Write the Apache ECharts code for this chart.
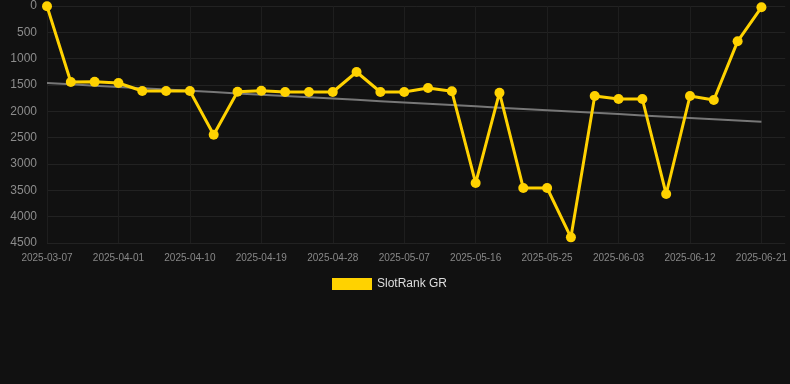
<!DOCTYPE html>
<html>
<head>
<meta charset="utf-8">
<style>
  html, body { margin: 0; padding: 0; background: #111111; }
  #chart { width: 790px; height: 384px; }
</style>
<script src="https://cdn.jsdelivr.net/npm/echarts@6/dist/echarts.min.js"></script>
</head>
<body>
<div id="chart"></div>
<script>
const dates = [
  '2025-03-07', '2025-03-26', '2025-03-29', '2025-04-01', '2025-04-04', '2025-04-07',
  '2025-04-10', '2025-04-13', '2025-04-16', '2025-04-19', '2025-04-22', '2025-04-25',
  '2025-04-28', '2025-05-01', '2025-05-04', '2025-05-07', '2025-05-10', '2025-05-13',
  '2025-05-16', '2025-05-19', '2025-05-22', '2025-05-25', '2025-05-28', '2025-05-31',
  '2025-06-03', '2025-06-06', '2025-06-09', '2025-06-12', '2025-06-15', '2025-06-18',
  '2025-06-21'
];
const rankGR = [
  5, 1443, 1440, 1462, 1614, 1614,
  1614, 2443, 1627, 1608, 1633, 1633,
  1633, 1253, 1633, 1633, 1557, 1620,
  3361, 1646, 3456, 3456, 4393, 1709,
  1766, 1766, 3570, 1709, 1785, 671,
  25
];
const seriesName = 'SlotRank GR';

// least squares trend over the category index
function trend(values) {
  const n = values.length;
  let sx = 0, sy = 0, sxy = 0, sxx = 0;
  values.forEach((v, i) => { sx += i; sy += v; sxy += i * v; sxx += i * i; });
  const slope = (n * sxy - sx * sy) / (n * sxx - sx * sx);
  const icpt = (sy - slope * sx) / n;
  return values.map((v, i) => +(icpt + slope * i).toFixed(1));
}

const chart = echarts.init(document.getElementById('chart'));
chart.setOption({
  backgroundColor: '#111111',
  animation: false,
  textStyle: { fontFamily: 'Liberation Sans, Arial, sans-serif' },
  grid: { top: 6, left: 47, right: 4, bottom: 141 },
  legend: {
    top: 273,
    left: 327,
    itemWidth: 40,
    itemHeight: 12,
    data: [{ name: seriesName, icon: 'rect' }],
    textStyle: { color: '#dddddd', fontSize: 12 }
  },
  xAxis: {
    type: 'category',
    data: dates,
    boundaryGap: false,
    max: dates.length,
    axisLine: { show: false },
    axisTick: { show: false },
    axisLabel: { color: '#888888', fontSize: 10, interval: 2, margin: 10 },
    splitLine: { show: true, interval: 2, lineStyle: { color: '#1e1e1e', width: 1 } }
  },
  yAxis: {
    type: 'value',
    inverse: true,
    min: 0,
    max: 4500,
    interval: 500,
    axisLine: { show: false },
    axisTick: { show: false },
    axisLabel: { color: '#8c8c8c', fontSize: 12, margin: 10, formatter: v => String(v) },
    splitLine: { lineStyle: { color: '#222222', width: 1 } }
  },
  series: [
    {
      name: seriesName,
      type: 'line',
      data: rankGR,
      symbol: 'circle',
      symbolSize: 10,
      lineStyle: { color: '#FFD200', width: 3 },
      itemStyle: { color: '#FFD200' },
      z: 3
    },
    {
      name: 'trend',
      type: 'line',
      data: trend(rankGR),
      symbol: 'none',
      silent: true,
      lineStyle: { color: '#777777', width: 2 },
      itemStyle: { color: '#777777' },
      z: 2
    }
  ]
});
</script>
</body>
</html>
